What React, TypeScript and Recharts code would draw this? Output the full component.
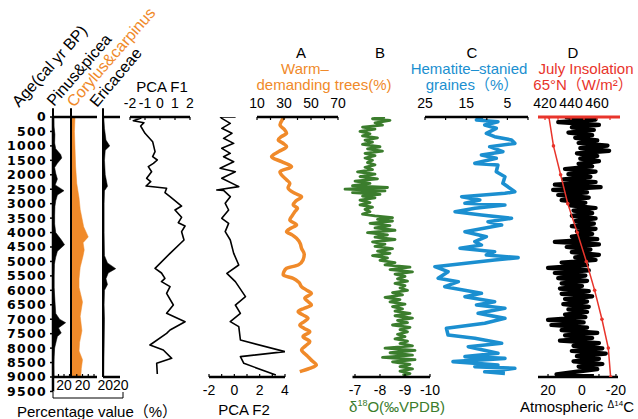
import React from 'react';
import { ComposedChart, Line, Area, XAxis, YAxis, ReferenceArea, ReferenceLine } from 'recharts';

const W = 638;
const H = 419;
const TOP = 117; // y of age 0
const BOT = 377; // y of age 9000
const AGE_BOT = TOP + (9500 * (BOT - TOP)) / 9000;
const FONT = '"Liberation Sans", Arial, "Noto Sans CJK SC", sans-serif';

const ORANGE = '#F08A2A';
const BLUE = '#1B8FD0';
const GREEN = '#3B7D2D';
const RED = '#E8342B';
const GRAY = '#d3d3d3';

// ---------- axes / categories ----------
const ageTicks = [0, 500, 1000, 1500, 2000, 2500, 3000, 3500, 4000, 4500, 5000, 5500, 6000, 6500, 7000, 7500, 8000, 8500, 9000, 9500];
const bands = [
  { from: 2500, to: 3500 },
  { from: 5000, to: 6100 },
];

// ---------- pollen percentages ----------
const pinus: [number, number][] = [
  [0, 1], [300, 1.5], [600, 3.5], [900, 3], [1100, 5], [1300, 14], [1420, 16], [1600, 8], [1750, 3], [1950, 5],
  [2150, 8], [2350, 4], [2550, 20], [2700, 8], [2900, 5], [3100, 3.5], [3400, 3], [3700, 3], [4000, 5], [4250, 15],
  [4420, 21], [4650, 8], [4850, 5], [5100, 2.5], [5500, 2], [5900, 2], [6200, 3], [6500, 4], [6800, 5], [7000, 12],
  [7120, 23], [7300, 10], [7480, 15], [7600, 8], [7750, 6], [8000, 3], [8300, 2], [8600, 1.5], [9000, 2],
];
const corylus: [number, number][] = [
  [0, 7], [500, 6], [1100, 7], [1700, 8], [2300, 10], [2800, 14], [3200, 16], [3500, 19], [3800, 22], [4150, 30],
  [4350, 21], [4600, 23], [4800, 21], [5200, 16], [5600, 14], [5900, 14], [6400, 20], [6900, 16], [7400, 19],
  [7800, 15], [8100, 14], [8400, 20], [8700, 18], [9000, 17],
];
const ericaceae: [number, number][] = [
  [0, 1], [400, 2], [800, 4], [1000, 9], [1150, 3], [1500, 2], [2000, 3], [2400, 6], [2550, 2], [3000, 1.5],
  [4000, 1.5], [4800, 2], [5050, 6], [5250, 17], [5400, 7], [5600, 4], [5800, 6], [6000, 2], [6500, 1.5],
  [7000, 2], [8000, 1.5], [9000, 1],
];
const pinusTicks = [10, 20, 30];
const corylusTicks = [10, 20, 30, 40];
const ericTicks = [5, 10, 15, 20];
const pinusLabels: Record<number, string> = { 20: '20' };
const corylusLabels: Record<number, string> = { 20: '20' };
const ericLabel = '2020';

// ---------- PCA ----------
const pcaF1: [number, number][] = [
  [0, -1.82], [46, -1.29], [128, -1.78], [196, -1.07], [311, -1.29], [565, -1.0], [854, -0.49], [1200, -0.33],
  [1373, -0.49], [1488, -0.18], [1604, -0.44], [1719, -0.78], [1893, -0.56], [2123, -0.89], [2238, -0.62],
  [2388, -0.93], [2469, 0.44], [2619, 0.33], [2758, 0.67], [3081, 1.44], [3219, 1.0], [3473, 1.44], [3658, 1.22],
  [3773, 1.67], [3969, 1.44], [4258, 1.6], [4719, 0.67], [5238, -0.33], [5400, 0.1], [5585, 0.33], [5700, 0.1],
  [5873, 0.67], [6104, 0.44], [6508, 0.89], [6796, 0.44], [7085, 1.67], [7373, 0.67], [7488, 0.44], [7892, -0.67],
  [8065, 0.22], [8354, 0.78], [8527, -0.22], [8896, -0.18],
];
const pcaF2: [number, number][] = [
  [0, 0.1], [0, -1.1], [46, -0.99], [219, -0.32], [392, -0.99], [565, -0.19], [738, -0.85], [912, -0.05],
  [1085, -0.99], [1258, -0.32], [1373, -0.85], [1546, -0.05], [1777, -1.12], [1893, 0.08], [2123, -0.99],
  [2411, 0.35], [2527, -1.39], [2540, -0.85], [2758, -0.32], [2988, -0.72], [3219, -0.45], [3508, -0.99],
  [3681, -0.45], [3969, -0.72], [4258, -0.32], [4719, -0.05], [5123, 0.35], [5411, -0.59], [5700, 0.08],
  [6219, 0.88], [6508, 0.08], [6796, 0.48], [7085, -0.32], [7258, 0.35], [7719, 0.48], [8123, 4.0], [8296, 0.48],
  [8527, 0.75], [8931, 3.28],
];
const pcaF1Ticks = [-2, -1, 0, 1, 2];
const pcaF2Ticks = [-2, -1, 0, 1, 2, 3, 4];
const pcaF2Labels: Record<number, string> = { [-2]: '-2', 0: '0', 2: '2', 4: '4' };

// ---------- A: warm-demanding trees ----------
const warmTrees: [number, number][] = [
  [0, 30], [46, 29.4], [277, 27], [420, 30], [565, 31.9], [680, 28], [796, 25.7], [900, 29], [1027, 31.9],
  [1200, 26], [1373, 20.8], [1546, 28.2], [1719, 35.6], [1893, 27], [2066, 29.4], [2180, 32], [2296, 34.3],
  [2450, 33], [2642, 38], [2758, 43], [2900, 39], [3046, 36.8], [3160, 40], [3277, 38], [3420, 36], [3565, 34.3],
  [3738, 39.3], [3850, 35], [3969, 31.9], [4080, 36], [4200, 39.3], [4380, 42], [4546, 43], [4750, 45], [4950, 44.1],
  [5123, 40.5], [5238, 31.9], [5350, 30], [5469, 29.4], [5585, 36.8], [5720, 41], [5873, 43], [6000, 47], [6104, 50.3],
  [6277, 45.4], [6400, 48], [6508, 50.3], [6620, 45], [6739, 40.5], [6850, 44], [6970, 47.8], [7080, 45], [7200, 41.7],
  [7320, 45], [7431, 49.1], [7604, 44.1], [7777, 49.1], [7920, 46], [8065, 43], [8180, 45], [8296, 47.8],
  [8450, 51], [8585, 54], [8700, 49], [8816, 41.7],
];
const warmTicks = [10, 20, 30, 40, 50, 60, 70];
const warmLabels: Record<number, string> = { 10: '10', 30: '30', 50: '50', 70: '70' };

// ---------- B: d18O ----------
const d18o: [number, number][] = [
  [0, -8.2], [60, -7.7], [120, -8.4], [200, -7.8], [280, -8.1], [350, -7.3], [420, -7.8], [500, -7.2], [580, -7.6],
  [650, -7.3], [720, -7.9], [800, -7.4], [870, -7.7], [950, -7.3], [1030, -8.0], [1100, -7.5], [1180, -8.1],
  [1260, -7.4], [1340, -7.8], [1420, -7.4], [1500, -7.7], [1580, -7.5], [1660, -7.8], [1740, -7.4], [1820, -7.7],
  [1900, -7.1], [1980, -7.8], [2060, -7.2], [2140, -7.9], [2220, -7.0], [2300, -7.6], [2380, -6.9], [2440, -8.3],
  [2500, -6.6], [2560, -8.2], [2620, -6.9], [2680, -8.0], [2740, -7.3], [2800, -7.8], [2880, -7.2], [2960, -7.6],
  [3040, -7.2], [3120, -7.7], [3200, -7.4], [3280, -7.6], [3360, -7.3], [3420, -7.8], [3480, -8.5], [3540, -7.9],
  [3600, -8.5], [3680, -7.6], [3760, -8.4], [3840, -7.8], [3920, -8.6], [4000, -7.5], [4080, -8.3], [4160, -7.8],
  [4240, -8.6], [4320, -7.7], [4400, -8.2], [4480, -7.8], [4560, -8.5], [4640, -7.9], [4720, -8.4], [4800, -7.7],
  [4880, -8.3], [4960, -8.0], [5040, -8.6], [5120, -8.2], [5200, -9.2], [5280, -8.4], [5360, -9.3], [5440, -8.6],
  [5520, -9.0], [5600, -8.7], [5680, -9.1], [5760, -8.6], [5840, -9.0], [5920, -8.8], [6000, -9.1], [6080, -8.5],
  [6160, -8.9], [6240, -8.2], [6320, -8.8], [6400, -8.4], [6480, -9.0], [6560, -8.5], [6640, -8.9], [6720, -8.6],
  [6800, -9.2], [6880, -8.6], [6960, -9.3], [7040, -8.7], [7120, -9.1], [7200, -8.5], [7280, -9.2], [7360, -8.8],
  [7440, -9.1], [7520, -8.7], [7600, -9.0], [7680, -8.6], [7760, -9.1], [7840, -8.8], [7920, -9.3], [8000, -8.2],
  [8080, -9.4], [8160, -8.4], [8240, -9.3], [8320, -8.1], [8400, -9.4], [8480, -8.5], [8560, -9.2], [8640, -8.8],
  [8720, -9.3], [8800, -8.8], [8880, -9.2], [8940, -8.9],
];
const d18oTicks = [-7, -8, -9, -10];

// ---------- C: hematite-stained grains ----------
const hematite: [number, number][] = [
  [10, 11], [104, 12.5], [162, 7.3], [277, 10.5], [392, 7.7], [565, 10.1], [681, 8.1], [796, 4.0], [912, 3.2],
  [1027, 9.3], [1200, 6.1], [1315, 11.3], [1431, 7.7], [1604, 12.9], [1662, 7.3], [1893, 7.7], [2066, 5.6],
  [2296, 6.1], [2585, 3.2], [2642, 5.6], [2758, 16.1], [2873, 11.7], [2988, 15.3], [3046, 5.6], [3161, 12.9],
  [3277, 17.7], [3392, 11.3], [3508, 4.0], [3623, 9.7], [3738, 6.4], [3969, 15.3], [4142, 10.1], [4315, 12.9],
  [4431, 11.3], [4546, 16.5], [4662, 8.1], [4777, 10.1], [4869, 2.4], [4950, 8.1], [5181, 22.6], [5354, 19.4],
  [5585, 21.8], [5700, 16.9], [5873, 20.2], [6104, 11.3], [6219, 15.3], [6393, 8.1], [6508, 12.5], [6623, 5.6],
  [6796, 12.1], [6970, 5.6], [7142, 10.5], [7315, 19.8], [7546, 19.4], [7661, 12.9], [7834, 6.4], [7950, 14.5],
  [8180, 7.3], [8296, 15.3], [8354, 5.6], [8469, 18.2], [8585, 7.3], [8643, 12.9], [8700, 3.2], [8816, 10.5],
  [8873, 5.6],
];
const hemTicks = [25, 20, 15, 10, 5, 0];
const hemLabels: Record<number, string> = { 25: '25', 15: '15', 5: '5' };

// ---------- D: insolation & atmospheric D14C ----------
const insolation: [number, number][] = [
  [0, 423], [1000, 426.5], [2000, 432], [3000, 437.5], [4000, 444.8], [5000, 451.8], [6000, 458.2], [7000, 463.8],
  [8000, 468.7], [9000, 470.5],
];
const insTicks = [420, 430, 440, 450, 460, 470];
const insLabels: Record<number, string> = { 420: '420', 440: '440', 460: '460' };

const d14c: [number, number][] = [
  [0, 10], [90, -8], [180, 14], [270, -10], [360, 6], [450, -7], [540, 8], [630, -6], [720, 4], [810, -9], [900, 2],
  [990, -15], [1080, 1], [1170, -16], [1260, 3], [1350, -9], [1440, 1], [1530, -10], [1620, 2], [1710, -6],
  [1800, 10], [1890, -8], [1980, 8], [2070, -5], [2160, 11], [2250, -8], [2340, 16], [2430, -11], [2520, 17],
  [2610, -3], [2700, 14], [2790, -4], [2880, 12], [2970, -2], [3060, 7], [3150, -8], [3240, 5], [3330, -6],
  [3420, 6], [3510, -8], [3600, 4], [3690, -7], [3780, 6], [3870, -8], [3960, 3], [4050, -6], [4140, 6], [4230, -9],
  [4320, 16], [4410, -10], [4500, 9], [4590, -5], [4680, 6], [4770, -10], [4860, 4], [4950, -8], [5040, 12],
  [5130, -3], [5220, 20], [5310, -4], [5400, 16], [5490, -2], [5580, 14], [5670, -3], [5760, 12], [5850, 0],
  [5940, 13], [6030, -4], [6120, 12], [6210, -6], [6300, 10], [6390, -3], [6480, 11], [6570, -4], [6660, 8],
  [6750, -3], [6840, 10], [6930, -2], [7020, 20], [7110, -1], [7200, 18], [7290, -3], [7380, 12], [7470, -9],
  [7560, 10], [7650, -6], [7740, 13], [7830, -10], [7920, 5], [8010, -12], [8100, 6], [8190, -14], [8280, 3],
  [8370, -10], [8460, 5], [8550, -12], [8640, 2], [8730, -9], [8820, 4], [8910, 15], [8970, -7],
];
const c14Ticks = [20, 10, 0, -10, -20];
const c14Labels: Record<number, string> = { 20: '20', 0: '0', [-20]: '-20' };

// ---------- helpers ----------
const rows = (s: [number, number][]) => s.map(([age, v]) => ({ age, v }));
const tick14 = { fill: '#000', fontSize: 14, fontFamily: FONT };
const axisLine = { stroke: '#000', strokeWidth: 2.5 };
const tickLine = { stroke: '#000', strokeWidth: 1.2 };
const fmt = (m: Record<number, string>) => (v: number) => m[v] ?? '';

function Panel({ x0, x1, topH = 0, botH = 0, children }: { x0: number; x1: number; topH?: number; botH?: number; children: React.ReactNode }) {
  return (
    <div style={{ position: 'absolute', left: 0, top: 0 }}>
      <ComposedChart
        width={W}
        height={H}
        layout="vertical"
        margin={{ top: TOP - topH, bottom: H - BOT - botH, left: x0, right: W - x1 }}
      >
        <YAxis yAxisId={0} type="number" dataKey="age" domain={[0, 9000]} hide allowDataOverflow />
        {children}
      </ComposedChart>
    </div>
  );
}

export default function App() {
  return (
    <div style={{ position: 'absolute', left: 0, top: 0, width: W, height: H, background: '#fff', overflow: 'hidden', fontFamily: FONT }}>
      {/* age axis and grey bands */}
      <div style={{ position: 'absolute', left: 0, top: 0 }}>
        <ComposedChart
          width={W}
          height={H}
          layout="vertical"
          data={ageTicks.map((age) => ({ age }))}
          margin={{ top: TOP, bottom: H - AGE_BOT, left: 3, right: W - 622 }}
        >
          <XAxis type="number" domain={[0, 1]} hide />
          <YAxis
            type="number"
            dataKey="age"
            domain={[0, 9500]}
            ticks={ageTicks}
            interval={0}
            width={50}
            allowDataOverflow
            axisLine={axisLine}
            tickLine={{ stroke: '#000', strokeWidth: 1.5 }}
            tickSize={3}
            tickMargin={3}
            tick={{ fill: '#000', fontSize: 12.5, fontWeight: 700, letterSpacing: 1.3, fontFamily: '"DejaVu Sans", sans-serif' }}
          />
          {bands.map((b) => (
            <ReferenceArea key={b.from} y1={b.from} y2={b.to} fill={GRAY} fillOpacity={1} stroke="none" ifOverflow="visible" />
          ))}
        </ComposedChart>
      </div>

      {/* Pinus & picea */}
      <Panel x0={53} x1={71} topH={10} botH={30}>
        <XAxis xAxisId="t" orientation="top" type="number" domain={[0, 32.7]} ticks={pinusTicks} interval={0} height={10}
          allowDataOverflow axisLine={axisLine} tickLine={tickLine} tickSize={-3} tick={false} />
        <XAxis xAxisId="b" orientation="bottom" type="number" domain={[0, 32.7]} ticks={pinusTicks} interval={0} height={30}
          allowDataOverflow axisLine={axisLine} tickLine={tickLine} tickSize={-3} tickMargin={6} tick={tick14} tickFormatter={fmt(pinusLabels)} />
        <Area xAxisId="t" data={rows(pinus)} dataKey="v" fill="#000" fillOpacity={1} stroke="#000" strokeWidth={0.5} isAnimationActive={false} />
        <ReferenceLine xAxisId="t" segment={[{ x: 0, y: -300 }, { x: 0, y: 9000 }]} stroke="#000" strokeWidth={2} ifOverflow="visible" />
      </Panel>

      {/* Corylus & carpinus */}
      <Panel x0={71} x1={97} topH={10} botH={30}>
        <XAxis xAxisId="t" orientation="top" type="number" domain={[0, 45.2]} ticks={corylusTicks} interval={0} height={10}
          allowDataOverflow axisLine={axisLine} tickLine={tickLine} tickSize={-3} tick={false} />
        <XAxis xAxisId="b" orientation="bottom" type="number" domain={[0, 45.2]} ticks={corylusTicks} interval={0} height={30}
          allowDataOverflow axisLine={axisLine} tickLine={tickLine} tickSize={-3} tickMargin={6} tick={tick14} tickFormatter={fmt(corylusLabels)} />
        <Area xAxisId="t" data={rows(corylus)} dataKey="v" fill={ORANGE} fillOpacity={1} stroke={ORANGE} strokeWidth={0.5} isAnimationActive={false} />
        <ReferenceLine xAxisId="t" segment={[{ x: 0, y: -300 }, { x: 0, y: 9000 }]} stroke="#000" strokeWidth={2} ifOverflow="visible" />
      </Panel>

      {/* Ericaceae */}
      <Panel x0={103} x1={120} topH={10} botH={30}>
        <XAxis xAxisId="t" orientation="top" type="number" domain={[0, 22.7]} ticks={ericTicks} interval={0} height={10}
          allowDataOverflow axisLine={axisLine} tickLine={tickLine} tickSize={-3} tick={false} />
        <XAxis xAxisId="b" orientation="bottom" type="number" domain={[0, 22.7]} ticks={ericTicks} interval={0} height={30}
          allowDataOverflow axisLine={axisLine} tickLine={tickLine} tickSize={-3} tick={false} />
        <Area xAxisId="t" data={rows(ericaceae)} dataKey="v" fill="#000" fillOpacity={1} stroke="#000" strokeWidth={0.5} isAnimationActive={false} />
        <ReferenceLine xAxisId="t" segment={[{ x: 0, y: -300 }, { x: 0, y: 9000 }]} stroke="#000" strokeWidth={2} ifOverflow="visible" />
      </Panel>

      {/* PCA F1 */}
      <Panel x0={130} x1={190} topH={30}>
        <XAxis orientation="top" type="number" domain={[-2, 2]} ticks={pcaF1Ticks} interval={0} height={30}
          allowDataOverflow axisLine={axisLine} tickLine={tickLine} tickSize={-3} tickMargin={12} tick={tick14} />
        <Line data={rows(pcaF1)} dataKey="v" stroke="#000" strokeWidth={1.6} dot={false} strokeLinejoin="round" isAnimationActive={false} />
      </Panel>

      {/* PCA F2 */}
      <Panel x0={209} x1={285} botH={30}>
        <XAxis orientation="bottom" type="number" domain={[-2, 4]} ticks={pcaF2Ticks} interval={0} height={30}
          allowDataOverflow axisLine={axisLine} tickLine={tickLine} tickSize={-3} tickMargin={11} tick={tick14} tickFormatter={fmt(pcaF2Labels)} />
        <Line data={rows(pcaF2)} dataKey="v" stroke="#000" strokeWidth={1.6} dot={false} strokeLinejoin="round" isAnimationActive={false} />
      </Panel>

      {/* A warm-demanding trees */}
      <Panel x0={257} x1={338} topH={30}>
        <XAxis orientation="top" type="number" domain={[10, 70]} ticks={warmTicks} interval={0} height={30}
          allowDataOverflow axisLine={axisLine} tickLine={tickLine} tickSize={-3} tickMargin={12} tick={tick14} tickFormatter={fmt(warmLabels)} />
        <Line data={rows(warmTrees)} dataKey="v" type="monotone" stroke={ORANGE} strokeWidth={3.5} dot={false} isAnimationActive={false} />
      </Panel>

      {/* B d18O */}
      <Panel x0={340} x1={430} botH={30}>
        <XAxis orientation="bottom" type="number" domain={[-10, -6.4]} reversed ticks={d18oTicks} interval={0} height={30}
          axisLine={false} tickLine={tickLine} tickSize={-3} tickMargin={11} tick={tick14} />
        <Line data={rows(d18o)} dataKey="v" stroke={GREEN} strokeWidth={2.8} dot={false} strokeLinejoin="round" isAnimationActive={false} />
        <ReferenceLine segment={[{ x: -6.9, y: 9000 }, { x: -10, y: 9000 }]} stroke="#000" strokeWidth={2.5} ifOverflow="visible" />
      </Panel>

      {/* C hematite */}
      <Panel x0={425} x1={528} topH={30}>
        <XAxis orientation="top" type="number" domain={[0, 25]} reversed ticks={hemTicks} interval={0} height={30}
          allowDataOverflow axisLine={axisLine} tickLine={tickLine} tickSize={-3} tickMargin={12} tick={tick14} tickFormatter={fmt(hemLabels)} />
        <Line data={rows(hematite)} dataKey="v" stroke={BLUE} strokeWidth={3.6} dot={false} strokeLinejoin="round" isAnimationActive={false} />
      </Panel>

      {/* D atmospheric D14C */}
      <Panel x0={538} x1={618} botH={30}>
        <XAxis orientation="bottom" type="number" domain={[-21.2, 25.9]} reversed ticks={c14Ticks} interval={0} height={30}
          allowDataOverflow axisLine={axisLine} tickLine={tickLine} tickSize={-3} tickMargin={11} tick={tick14} tickFormatter={fmt(c14Labels)} />
        <Line data={rows(d14c)} dataKey="v" stroke="#000" strokeWidth={4.2} dot={false} strokeLinejoin="round" isAnimationActive={false} />
      </Panel>

      {/* D July insolation */}
      <Panel x0={538} x1={620} topH={30}>
        <XAxis orientation="top" type="number" domain={[414.6, 477.7]} ticks={insTicks} interval={0} height={30}
          allowDataOverflow axisLine={{ stroke: RED, strokeWidth: 3 }} tickLine={{ stroke: RED, strokeWidth: 1.2 }} tickSize={-3} tickMargin={12}
          tick={tick14} tickFormatter={fmt(insLabels)} />
        <Line data={rows(insolation)} dataKey="v" stroke={RED} strokeWidth={1.5} dot={{ r: 1.8, fill: RED, stroke: 'none' }} isAnimationActive={false} />
      </Panel>

      {/* titles */}
      <svg width={W} height={H} style={{ position: 'absolute', left: 0, top: 0, pointerEvents: 'none' }} fontFamily={FONT}>
        <text x={19} y={108} fontSize={16} transform="rotate(-48 19 108)">Age(cal yr BP)</text>
        <text x={54} y={107} fontSize={16} transform="rotate(-49 54 107)">Pinus&amp;picea</text>
        <text x={74} y={108} fontSize={16} fill={ORANGE} transform="rotate(-49 74 108)">Corylus&amp;carpinus</text>
        <text x={97} y={108} fontSize={16} transform="rotate(-50 97 108)">Ericaceae</text>

        <text x={113} y={390} fontSize={14} textAnchor="middle">{ericLabel}</text>

        <text x={162} y={92} fontSize={15} textAnchor="middle">PCA F1</text>
        <text x={244} y={415} fontSize={15} textAnchor="middle">PCA F2</text>

        <text x={301} y={58} fontSize={15} textAnchor="middle">A</text>
        <text x={305} y={74} fontSize={15} textAnchor="middle" fill={ORANGE}>Warm–</text>
        <text x={324} y={90} fontSize={15} textAnchor="middle" fill={ORANGE}>demanding trees(%)</text>

        <text x={380} y={58} fontSize={15} textAnchor="middle">B</text>
        <text x={397} y={412} fontSize={15} textAnchor="middle" fill={GREEN}>
          δ<tspan fontSize={9} dy={-6}>18</tspan><tspan dy={6}>O(‰VPDB)</tspan>
        </text>

        <text x={472} y={58} fontSize={15} textAnchor="middle">C</text>
        <text x={469} y={74} fontSize={15} textAnchor="middle" fill={BLUE}>Hematite–stanied</text>
        <text x={472} y={90} fontSize={15} textAnchor="middle" fill={BLUE}>graines（%）</text>

        <text x={573} y={58} fontSize={15} textAnchor="middle">D</text>
        <text x={586} y={74} fontSize={15} textAnchor="middle" fill={RED}>July Insolation</text>
        <text x={583} y={90} fontSize={15} textAnchor="middle" fill={RED}>65°N（W/m²）</text>

        <text x={577} y={412} fontSize={15} textAnchor="middle">
          Atmospheric <tspan fontSize={10} dy={-4}>Δ</tspan><tspan fontSize={8} dy={-2}>14</tspan><tspan dy={6}>C</tspan>
        </text>

        <path d="M53,392 V398 H123 V392" fill="none" stroke="#000" strokeWidth={1} />
        <text x={17} y={417} fontSize={15}>Percentage value（%）</text>
      </svg>
    </div>
  );
}
